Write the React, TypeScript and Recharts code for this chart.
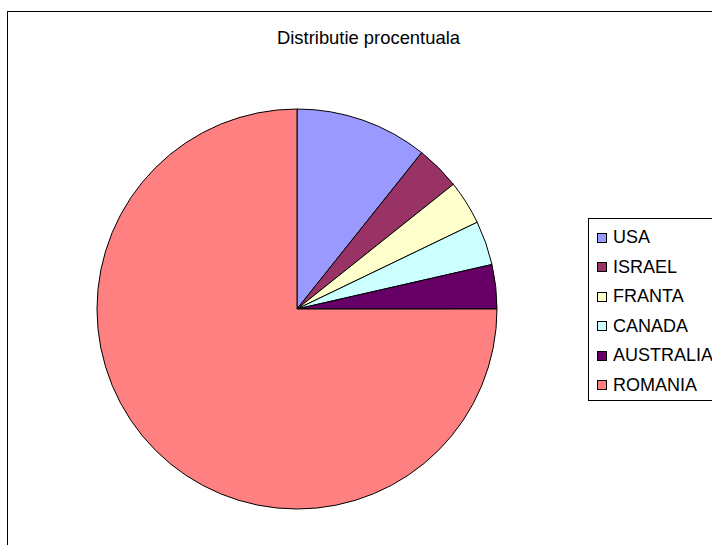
import { Cell, Legend, Pie, PieChart } from "recharts"

const countries = ["USA", "ISRAEL", "FRANTA", "CANADA", "AUSTRALIA", "ROMANIA"]
const counts = [9, 3, 3, 3, 3, 63]
const COLORS = ["#9999FF", "#993366", "#FFFFCC", "#CCFFFF", "#660066", "#FF8080"]

const FONT = "'Liberation Sans', Arial, sans-serif"

const chartData = countries.map((name, i) => ({ name, value: counts[i] }))

function LegendBox() {
  return (
    <div
      style={{
        border: "1px solid #000",
        background: "#fff",
        width: 140,
        paddingTop: 4,
        paddingBottom: 0,
        boxSizing: "border-box",
      }}
    >
      {countries.map((name, i) => (
        <div
          key={name}
          style={{
            height: 29.5,
            display: "flex",
            alignItems: "center",
            fontFamily: FONT,
            fontSize: 18,
            color: "#000",
            whiteSpace: "nowrap",
          }}
        >
          <span
            style={{
              display: "inline-block",
              width: 8,
              height: 8,
              border: "1px solid #000",
              background: COLORS[i],
              marginLeft: 8,
              marginRight: 6,
            }}
          />
          {name}
        </div>
      ))}
    </div>
  )
}

export default function App() {
  return (
    <div
      style={{
        position: "absolute",
        left: 0,
        top: 0,
        width: 712,
        height: 545,
        overflow: "hidden",
        background: "#fff",
      }}
    >
      <div
        style={{
          position: "absolute",
          left: 7,
          top: 11,
          width: 760,
          height: 600,
          border: "1px solid #000",
        }}
      />
      <div
        style={{
          position: "absolute",
          left: 0,
          top: 29,
          width: 737,
          textAlign: "center",
          fontFamily: FONT,
          fontSize: 18.4,
          lineHeight: "18px",
          color: "#000",
        }}
      >
        Distributie procentuala
      </div>
      <div style={{ position: "absolute", left: 0, top: 0 }}>
        <PieChart width={712} height={545} margin={{ top: 0, right: 0, bottom: 0, left: 0 }}>
          <Pie
            data={chartData}
            dataKey="value"
            nameKey="name"
            cx={297}
            cy={309}
            outerRadius={200}
            startAngle={90}
            endAngle={-270}
            stroke="#000"
            strokeWidth={1}
            isAnimationActive={false}
          >
            {chartData.map((_, index) => (
              <Cell key={`cell-${index}`} fill={COLORS[index]} />
            ))}
          </Pie>
          <Legend
            content={() => <LegendBox />}
            wrapperStyle={{ position: "absolute", left: 588, top: 218, width: 140 }}
          />
        </PieChart>
      </div>
    </div>
  )
}
